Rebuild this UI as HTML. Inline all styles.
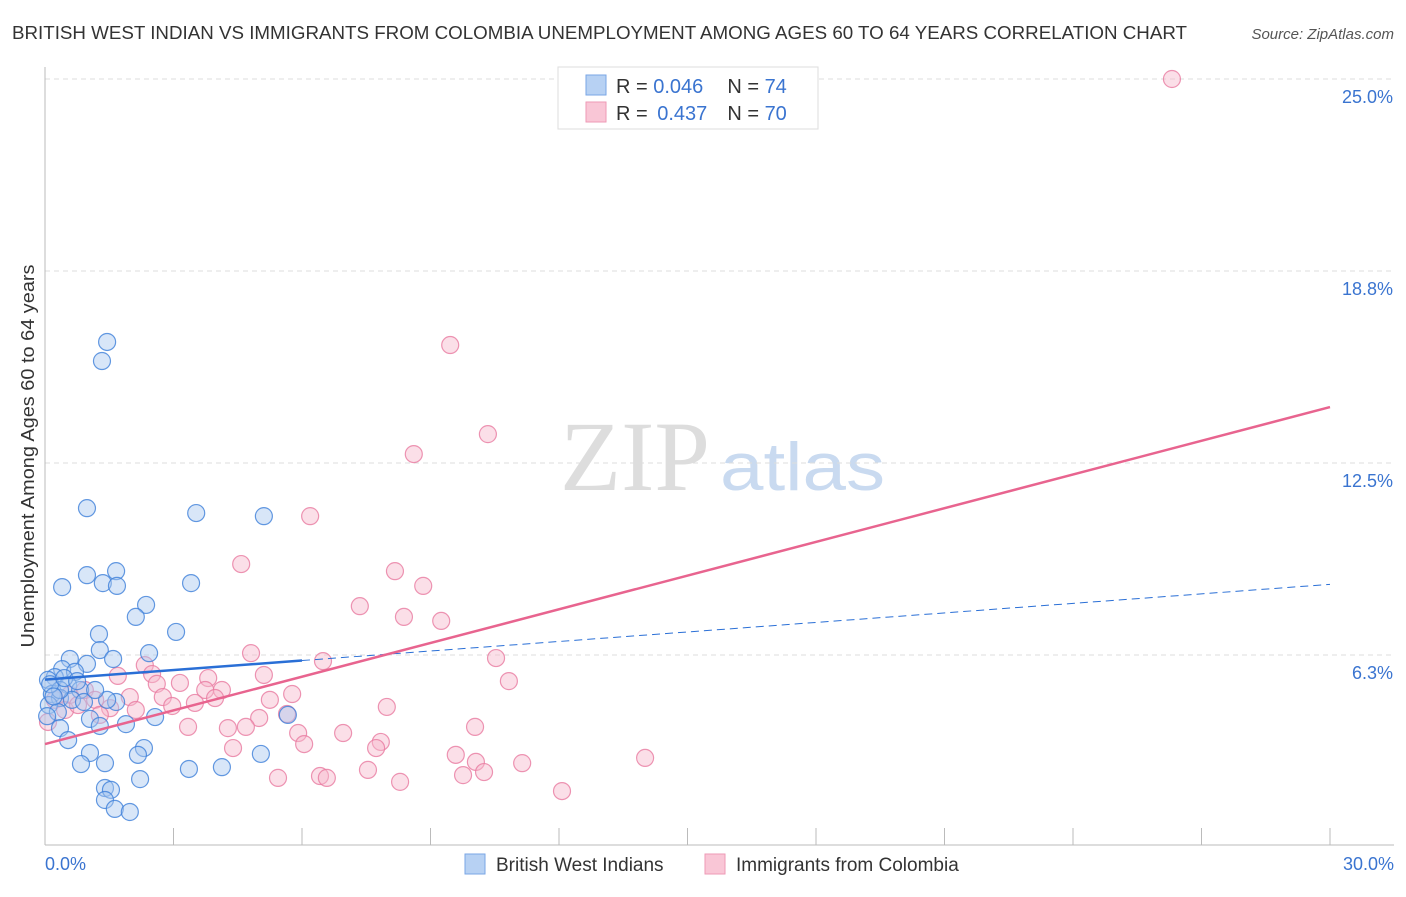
<!DOCTYPE html>
<html><head><meta charset="utf-8"><style>
body{margin:0;background:#fff;font-family:"Liberation Sans",sans-serif;}
</style></head><body>
<svg width="1406" height="892" xmlns="http://www.w3.org/2000/svg" font-family="Liberation Sans, sans-serif">
<text x="12" y="39" font-size="18" fill="#333" textLength="1175" lengthAdjust="spacingAndGlyphs">BRITISH WEST INDIAN VS IMMIGRANTS FROM COLOMBIA UNEMPLOYMENT AMONG AGES 60 TO 64 YEARS CORRELATION CHART</text>
<text x="1394" y="39" font-size="15" fill="#555" font-style="italic" text-anchor="end">Source: ZipAtlas.com</text>
<g>
<text x="635" y="490" font-size="100" fill="#ddd" font-family="Liberation Serif, serif" text-anchor="middle">ZIP</text>
<text x="720" y="490" font-size="68" fill="#c9daf0" textLength="165" lengthAdjust="spacingAndGlyphs">atlas</text>
</g>
<g id="grid"></g><g id="axes"></g><g id="marks"></g>
<text x="34" y="456" font-size="18" fill="#333" text-anchor="middle" textLength="383" lengthAdjust="spacingAndGlyphs" transform="rotate(-90 34 456)">Unemployment Among Ages 60 to 64 years</text>
<text x="45" y="870" font-size="18" fill="#3a74d0">0.0%</text>
<text x="1394" y="870" font-size="18" fill="#3a74d0" text-anchor="end">30.0%</text>
<g>
<rect x="558" y="67" width="260" height="62" fill="#fff" stroke="#ddd"/>
<rect x="586" y="75" width="20" height="20" fill="#b7d1f3" stroke="#7aa6e6"/>
<rect x="586" y="102" width="20" height="20" fill="#f9c6d6" stroke="#ee9ab6"/>
<text x="616" y="93" font-size="20" fill="#333">R = <tspan fill="#3a74d0">0.046</tspan><tspan dx="24">N = </tspan><tspan fill="#3a74d0">74</tspan></text>
<text x="616" y="120" font-size="20" fill="#333">R = <tspan fill="#3a74d0" dx="4">0.437</tspan><tspan dx="20">N = </tspan><tspan fill="#3a74d0">70</tspan></text>
</g>
<g>
<rect x="465" y="854" width="20" height="20" fill="#b7d1f3" stroke="#7aa6e6"/>
<text x="496" y="871" font-size="19" fill="#333">British West Indians</text>
<rect x="705" y="854" width="20" height="20" fill="#f9c6d6" stroke="#ee9ab6"/>
<text x="736" y="871" font-size="19" fill="#333">Immigrants from Colombia</text>
</g>
</svg>
<script>
const yTicks=[6.25,12.5,18.75,25];
const yTickLabels=["6.3%","12.5%","18.8%","25.0%"];
const xTicks=[0,3,6,9,12,15,18,21,24,27,30];
const blueX=[1.45,1.33,0.98,3.53,5.11,1.66,0.98,0.40,1.35,1.68,3.41,2.36,2.12,3.06,1.26,2.43,1.28,1.59,0.58,0.98,0.40,0.70,0.23,0.07,0.54,0.82,0.16,0.35,0.63,0.91,0.09,0.30,0.05,1.66,1.45,2.57,5.67,1.05,1.28,1.89,0.35,0.54,1.05,2.31,2.17,5.04,0.84,1.40,3.36,4.13,2.22,1.40,1.54,1.40,1.63,1.98,0.35,1.17,0.12,0.45,0.75,0.20];
const blueY=[16.44,15.82,11.03,10.87,10.77,8.98,8.85,8.46,8.59,8.50,8.59,7.88,7.49,7.00,6.93,6.31,6.41,6.12,6.12,5.96,5.79,5.70,5.53,5.44,5.27,5.11,4.98,4.85,4.79,4.72,4.62,4.39,4.26,4.72,4.79,4.23,4.30,4.17,3.94,4.00,3.87,3.48,3.06,3.22,3.00,3.03,2.70,2.73,2.54,2.60,2.21,1.92,1.86,1.53,1.24,1.14,5.11,5.11,5.30,5.50,5.40,4.90];
const pinkX=[26.31,9.46,10.34,8.61,6.19,4.58,8.17,8.83,7.35,8.38,9.25,4.81,6.49,10.53,2.33,2.50,5.11,10.83,1.70,3.81,3.15,2.61,3.74,4.13,1.98,2.75,5.77,5.25,3.50,3.97,2.97,1.52,7.98,2.12,5.65,5.00,3.34,4.27,4.69,5.91,6.96,10.04,6.05,7.84,7.73,4.39,9.59,10.06,11.14,14.01,7.54,10.25,9.76,6.42,6.58,5.44,8.29,12.07,0.58,0.93,0.23,0.47,0.77,1.17,0.07,1.28];
const pinkY=[25.0,16.34,13.44,12.79,10.77,9.21,8.98,8.50,7.84,7.49,7.36,6.31,6.05,6.15,5.92,5.63,5.60,5.40,5.57,5.50,5.34,5.31,5.11,5.11,4.88,4.88,4.98,4.79,4.69,4.85,4.59,4.52,4.56,4.46,4.33,4.20,3.91,3.87,3.91,3.71,3.71,3.91,3.35,3.42,3.22,3.22,3.00,2.77,2.73,2.90,2.51,2.44,2.34,2.31,2.25,2.25,2.12,1.82,4.95,5.11,4.79,4.46,4.62,4.79,4.07,4.30];
const blueTrend=[5.45,8.55];
const pinkTrend=[3.35,14.32];
const NS="http://www.w3.org/2000/svg";
const X=v=>45+v/30*1285, Y=v=>847-v/6.25*192;
function mk(t,a,p){const e=document.createElementNS(NS,t);for(const k in a)e.setAttribute(k,a[k]);p.appendChild(e);return e;}
const grid=document.getElementById('grid'),axes=document.getElementById('axes'),marks=document.getElementById('marks');
yTicks.forEach((t,i)=>{
 const l=mk('line',{x1:45,x2:1394,y1:Y(t),y2:Y(t),stroke:'#ddd','stroke-dasharray':'5,4'},grid);
 
 
 const tx=mk('text',{x:1393,y:Y(t)+24,'font-size':18,fill:'#3a74d0','text-anchor':'end'},axes);
 tx.textContent=yTickLabels[i];
 
 
});
const ax=mk('line',{x1:45,x2:1394,y1:845,y2:845,stroke:'#bbb'},axes);


const ay=mk('line',{x1:45,x2:45,y1:67,y2:845,stroke:'#bbb'},axes);


xTicks.forEach(t=>{const l=mk('line',{x1:X(t),x2:X(t),y1:828,y2:845,stroke:'#bbb'},axes);
 
 });
function dots(xs,ys,fill,stroke,name){xs.forEach((x,i)=>{const c=mk('circle',{cx:X(x),cy:Y(ys[i]),r:8.5,fill:fill,'fill-opacity':0.45,stroke:stroke,'stroke-opacity':0.8,'stroke-width':1.2},marks);
 
 });}
dots(pinkX,pinkY,'#f7b8cc','#e87aa0','colombia-point');
dots(blueX,blueY,'#a9c8f0','#3d7fd9','bwi-point');
const bAt=v=>blueTrend[0]+(blueTrend[1]-blueTrend[0])*v/30;
const b1=mk('line',{x1:X(0),y1:Y(bAt(0)),x2:X(6),y2:Y(bAt(6)),stroke:'#2a6fd6','stroke-width':2.5},marks);


const b2=mk('line',{x1:X(6),y1:Y(bAt(6)),x2:X(30),y2:Y(bAt(30)),stroke:'#2a6fd6','stroke-width':1,'stroke-dasharray':'8,5'},marks);


const p1=mk('line',{x1:X(0),y1:Y(pinkTrend[0]),x2:X(30),y2:Y(pinkTrend[1]),stroke:'#e8648f','stroke-width':2.5},marks);


</script>
</body></html>
